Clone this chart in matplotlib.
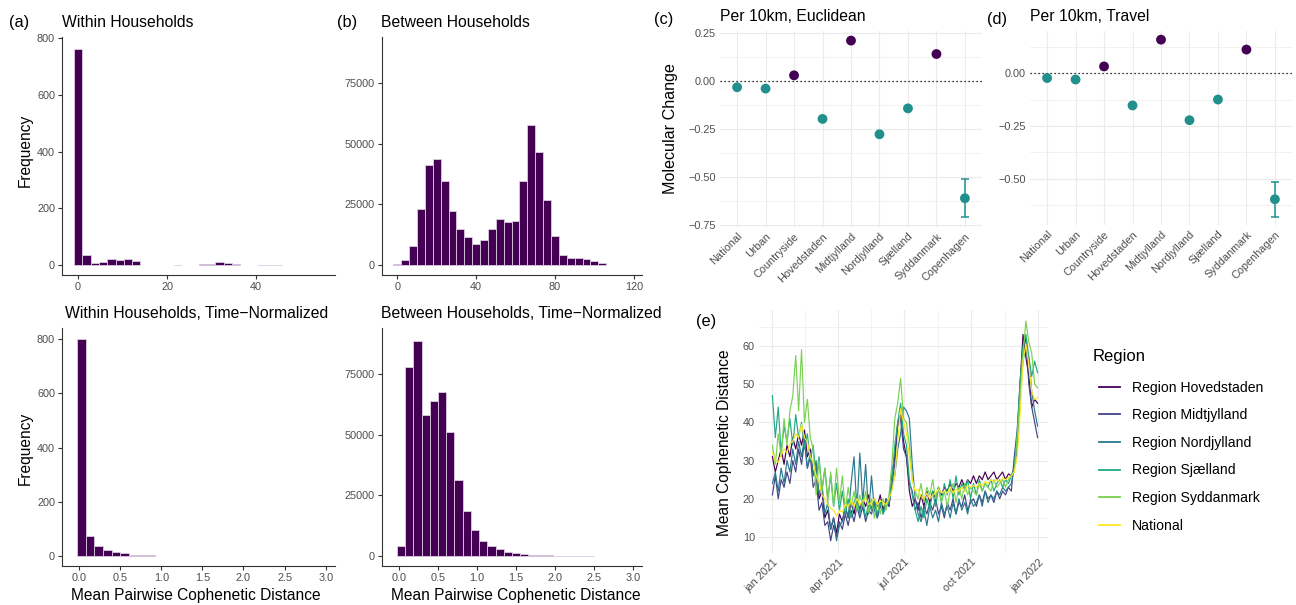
import numpy as np
import matplotlib
matplotlib.use('Agg')
import matplotlib.pyplot as plt
import matplotlib.dates as mdates
from matplotlib.ticker import FixedLocator

plt.rcParams['font.family'] = ['Liberation Sans', 'DejaVu Sans']

# ---------------- data ----------------
# (a) within households histogram
within_counts = [762, 35, 9, 10, 23, 19, 21, 14, 0, 0, 0, 0, 1, 0, 0, 2, 4, 12, 8, 2,
                 0, 0, 1, 1, 1, 0, 0, 0, 0, 0]
within_binwidth = 1.87
# (b) between households histogram
between_counts = [200, 2200, 7700, 22900, 41400, 43600, 34500, 22100, 15000, 11700,
                  8800, 10200, 15000, 18900, 17700, 18200, 34800, 57700, 46500, 26600,
                  12100, 4100, 2900, 3000, 2500, 1500, 600]
between_binwidth = 4.0
# time-normalized histograms
within_norm_counts = [800, 71.5, 37, 23, 15, 10, 4, 2, 2]
between_norm_counts = [3900, 78100, 88800, 58100, 63800, 67600, 51200, 31300, 18500, 10600,
                       6200, 3900, 2600, 1650, 1100, 700, 400, 200, 100, 50,
                       50, 40, 30, 30]
norm_binwidth = 0.105
norm_first_center = 0.03

# (c), (d) molecular change
categories = ["National", "Urban", "Countryside", "Hovedstaden", "Midtjylland",
              "Nordjylland", "Sjælland", "Syddanmark", "Copenhagen"]
eucl = [-0.031, -0.038, 0.031, -0.196, 0.212, -0.276, -0.141, 0.142, -0.609]
eucl_lo = [-0.031, -0.038, 0.031, -0.196, 0.212, -0.276, -0.141, 0.142, -0.708]
eucl_hi = [-0.031, -0.038, 0.031, -0.196, 0.212, -0.276, -0.141, 0.142, -0.509]
travel = [-0.022, -0.029, 0.033, -0.152, 0.160, -0.222, -0.124, 0.113, -0.597]
travel_lo = [-0.022, -0.029, 0.033, -0.152, 0.160, -0.222, -0.124, 0.113, -0.681]
travel_hi = [-0.022, -0.029, 0.033, -0.152, 0.160, -0.222, -0.124, 0.113, -0.516]

# (e) mean cophenetic distance, every 4 days from 2021-01-01
e_start = '2021-01-01'
e_step_days = 4
hovedstaden = [31, 27, 30, 33, 29, 34, 31, 36, 33, 37,
               34, 38, 31, 33, 26, 28, 20, 22, 15, 17,
               12, 15, 11, 16, 14, 18, 15, 19, 16, 20,
               17, 20, 18, 21, 17, 20, 18, 21, 17, 20,
               18, 26, 31, 40, 42, 35, 31, 22, 18, 20,
               17, 21, 18, 22, 19, 22, 20, 23, 21, 23,
               22, 24, 22, 24, 23, 25, 23, 25, 24, 26,
               24, 26, 25, 27, 25, 26, 27, 25, 26, 27,
               25, 26.5, 26, 28, 35, 50, 63, 57, 52, 44,
               46, 45]
midtjylland = [21, 26, 20, 25, 23, 27, 24, 30, 27, 33,
               29, 35, 28, 31, 23, 25, 17, 19, 13, 14,
               9, 13, 10, 14, 12, 16, 13, 17, 14, 18,
               15, 18, 14, 17, 16, 19, 15, 18, 17, 19,
               18, 24, 29, 39, 41, 33, 31, 24, 22, 17,
               19, 15, 18, 16, 19, 17, 20, 16, 18, 15,
               19, 17, 20, 16, 19, 18, 21, 17, 19, 20,
               18, 21, 19, 22, 20, 21, 19, 22, 20, 22,
               21, 23, 22, 31, 38, 50, 59, 62, 50, 44,
               40, 36]
nordjylland = [24, 27, 22, 28, 24, 30, 27, 33, 29, 35,
               31, 36, 28, 32, 26, 30, 21, 24, 16, 19,
               12, 15, 9, 13, 14, 18, 15, 24, 31, 17,
               32, 19, 29, 16, 26, 17, 15, 19, 16, 20,
               19, 23, 26, 33, 37, 44, 43, 41, 29, 20,
               16, 14, 17, 13, 18, 15, 17, 14, 19, 16,
               18, 15, 19, 16, 20, 17, 19, 16, 20, 18,
               19, 21, 18, 22, 19, 21, 20, 22, 21, 23,
               22, 23, 24, 28, 33, 47, 56, 60, 57, 48,
               43, 39]
sjaelland = [47, 36, 44, 32, 39, 35, 41, 34, 42, 36,
             40, 33, 37, 30, 34, 25, 31, 22, 28, 20,
             26, 18, 24, 17, 22, 16, 20, 15, 19, 21,
             16, 20, 15, 19, 17, 20, 16, 19, 16, 18,
             19, 25, 34, 40, 45, 37, 34, 25, 21, 17,
             14, 18, 15, 20, 17, 22, 18, 23, 19, 24,
             21, 25, 20, 26, 21, 24, 22, 25, 20, 24,
             21, 25, 22, 24, 23, 25, 22, 24, 25, 23,
             25, 24, 26, 28, 37, 51, 60, 63, 57, 52,
             56, 53]
syddanmark = [34, 29, 37, 31, 41, 34, 43, 47, 57.5, 43,
              59, 40, 46, 36, 33, 21, 30, 22, 28, 19,
              27, 18, 28, 19, 26, 17, 23, 18, 22, 17,
              21, 18, 22, 16.5, 20, 15, 19, 16, 20, 17,
              21, 29, 41, 45, 51.5, 41, 40, 34, 25, 22,
              20, 24, 19, 23, 21, 25, 20, 23, 19, 22,
              18, 22, 24, 19, 23, 20, 24, 21, 23, 22,
              21, 24, 22, 24, 23, 22, 25, 23, 24, 25,
              23, 25, 26, 27, 36, 47, 58, 66.5, 61, 58,
              50, 49]
national = [32, 30, 29.5, 31.5, 33, 32, 34.5, 35, 37, 36,
            39.5, 36, 35, 31, 29.5, 26, 24.5, 21, 20, 18.5,
            17.5, 17, 15.5, 17, 16.5, 18.5, 18, 19.5, 18, 20,
            18.5, 19.5, 20, 18.5, 19, 20, 18.5, 19.5, 19, 18.5,
            20, 22, 26, 35, 43.5, 40, 37, 31, 25, 22,
            22.5, 20.5, 20, 21.5, 20, 21, 21.5, 22.5, 21.5, 22,
            21.5, 23, 21.5, 22.5, 22, 23, 22, 23.5, 23, 23.5,
            23, 24, 23.5, 24.5, 24, 25, 24.5, 25, 24.5, 25.5,
            25, 25.5, 26, 27, 31, 42, 56, 60.5, 55, 48,
            46, 46.5]
region_names = ["Region Hovedstaden", "Region Midtjylland", "Region Nordjylland",
                "Region Sjælland", "Region Syddanmark", "National"]
region_colors = ['#440154', '#414487', '#2A788E', '#22A884', '#7AD151', '#FDE725']
e_tick_dates = ['2021-01-01', '2021-04-01', '2021-07-01', '2021-10-01', '2022-01-01']
e_tick_labels = ['jan 2021', 'apr 2021', 'jul 2021', 'oct 2021', 'jan 2022']

# ---------------- figure ----------------
W, H = 1296, 605
fig = plt.figure(figsize=(W / 100, H / 100), dpi=100)

def add_ax(l, r, t, b):
    return fig.add_axes([l / W, 1 - b / H, (r - l) / W, (b - t) / H])

def ftext(x, y, s, **kw):
    return fig.text(x / W, 1 - y / H, s, **kw)

FILL = '#440154'
EDGE = '#DCCCE2'
TICKC = '#4D4D4D'
TSIZE = 7.8
TITLE = 11.3
LABEL = 11.2

def classic(ax):
    for s in ['top', 'right']:
        ax.spines[s].set_visible(False)
    for s in ['left', 'bottom']:
        ax.spines[s].set_color('#333333')
        ax.spines[s].set_linewidth(0.8)
    ax.tick_params(axis='both', colors='#333333', labelcolor=TICKC, labelsize=TSIZE,
                   length=3, width=0.8, pad=2)

def hist(ax, centers, counts, width):
    centers = np.asarray(centers, dtype=float)
    counts = np.asarray(counts, dtype=float)
    keep = counts > 0
    ax.bar(centers[keep], counts[keep], width=width, color=FILL, edgecolor=EDGE, linewidth=0.6)

# (a) top
ax = add_ax(62, 335, 37, 275)
hist(ax, np.arange(len(within_counts)) * within_binwidth, within_counts, within_binwidth)
ax.set_xlim(-3.6, 57.7)
ax.set_ylim(-35, 803.5)
ax.set_xticks([0, 20, 40])
ax.set_yticks([0, 200, 400, 600, 800])
classic(ax)

# (b) top
ax = add_ax(382, 642, 37, 275)
hist(ax, np.arange(len(between_counts)) * between_binwidth, between_counts, between_binwidth)
ax.set_xlim(-7.8, 124.2)
ax.set_ylim(-4140, 93950)
ax.set_xticks([0, 40, 80, 120])
ax.set_yticks([0, 25000, 50000, 75000])
classic(ax)

# (a) bottom
ax = add_ax(62, 335, 328, 566)
hist(ax, norm_first_center + np.arange(len(within_norm_counts)) * norm_binwidth,
     within_norm_counts, norm_binwidth)
ax.set_xlim(-0.207, 3.113)
ax.set_ylim(-38, 842)
ax.set_xticks([0, 0.5, 1, 1.5, 2, 2.5, 3])
ax.set_xticklabels(['0.0', '0.5', '1.0', '1.5', '2.0', '2.5', '3.0'])
ax.set_yticks([0, 200, 400, 600, 800])
classic(ax)

# (b) bottom
ax = add_ax(382, 642, 328, 566)
hist(ax, norm_first_center + np.arange(len(between_norm_counts)) * norm_binwidth,
     between_norm_counts, norm_binwidth)
ax.set_xlim(-0.214, 3.11)
ax.set_ylim(-4260, 94140)
ax.set_xticks([0, 0.5, 1, 1.5, 2, 2.5, 3])
ax.set_xticklabels(['0.0', '0.5', '1.0', '1.5', '2.0', '2.5', '3.0'])
ax.set_yticks([0, 25000, 50000, 75000])
classic(ax)

# titles / labels for histograms
ftext(9, 27, '(a)', fontsize=TITLE + 0.5, va='baseline')
ftext(337, 27, '(b)', fontsize=TITLE + 0.5, va='baseline')
ftext(62, 27, 'Within Households', fontsize=TITLE, va='baseline')
ftext(381, 27, 'Between Households', fontsize=TITLE, va='baseline')
ftext(65, 318, 'Within Households, Time\u2212Normalized', fontsize=TITLE, va='baseline')
ftext(381, 318, 'Between Households, Time\u2212Normalized', fontsize=TITLE, va='baseline')
ftext(25, 150, 'Frequency', fontsize=LABEL, rotation=90, ha='center', va='center')
ftext(25, 448, 'Frequency', fontsize=LABEL, rotation=90, ha='center', va='center')
ftext(196, 600, 'Mean Pairwise Cophenetic Distance', fontsize=LABEL, ha='center', va='baseline')
ftext(516, 600, 'Mean Pairwise Cophenetic Distance', fontsize=LABEL, ha='center', va='baseline')

GRID = '#EBEBEB'

def minimal(ax):
    for s in ax.spines.values():
        s.set_visible(False)
    ax.tick_params(axis='both', which='both', length=0, labelcolor=TICKC, labelsize=TSIZE, pad=3)
    ax.grid(True, which='major', color=GRID, linewidth=0.8)
    ax.grid(True, which='minor', axis='y', color=GRID, linewidth=0.45)
    ax.set_axisbelow(True)

def dotplot(ax, vals, lo, hi, ylim, yticks, ylabels):
    x = np.arange(len(categories))
    cols = ['#440154' if v > 0 else '#21908C' for v in vals]
    ax.axhline(0, color='black', linestyle=(0, (1, 2.2)), linewidth=0.9, zorder=1)
    for xi, v, l, h, c in zip(x, vals, lo, hi, cols):
        if h - l > 1e-6:
            ax.errorbar([xi], [v], yerr=[[v - l], [h - v]], color=c, capsize=3.2,
                        elinewidth=1.1, capthick=1.1, zorder=2)
    ax.scatter(x, vals, s=50, c=cols, zorder=3, linewidths=0)
    ax.set_xlim(-0.6, len(categories) - 0.4)
    ax.set_ylim(*ylim)
    ax.set_xticks(x)
    ax.set_xticklabels(categories, rotation=45, ha='right', va='top', rotation_mode='anchor')
    ax.set_yticks(yticks)
    ax.set_yticklabels(ylabels)
    minor = [(a + b) / 2 for a, b in zip(yticks[:-1], yticks[1:])]
    if ylim[1] > yticks[-1] + (yticks[-1] - yticks[-2]) / 2:
        minor.append(yticks[-1] + (yticks[-1] - yticks[-2]) / 2)
    if ylim[0] < yticks[0] - (yticks[1] - yticks[0]) / 2:
        minor.append(yticks[0] - (yticks[1] - yticks[0]) / 2)
    ax.yaxis.set_minor_locator(FixedLocator(minor))
    minimal(ax)

# (c)
ax = add_ax(720, 982, 31, 227)
dotplot(ax, eucl, eucl_lo, eucl_hi, (-0.759, 0.262),
        [-0.75, -0.5, -0.25, 0.0, 0.25], ['\u22120.75', '\u22120.50', '\u22120.25', '0.00', '0.25'])
# (d)
ax = add_ax(1030, 1292, 31, 225)
dotplot(ax, travel, travel_lo, travel_hi, (-0.719, 0.201),
        [-0.5, -0.25, 0.0], ['\u22120.50', '\u22120.25', '0.00'])

ftext(654, 24, '(c)', fontsize=TITLE + 0.5, va='baseline')
ftext(987, 24, '(d)', fontsize=TITLE + 0.5, va='baseline')
ftext(720, 21, 'Per 10km, Euclidean', fontsize=TITLE, va='baseline')
ftext(1030, 21, 'Per 10km, Travel', fontsize=TITLE, va='baseline')
ftext(670, 129, 'Molecular Change', fontsize=LABEL + 0.4, rotation=90, ha='center', va='center')

# (e)
ax = add_ax(759, 1048, 310, 553)
start = np.datetime64(e_start)
series = [hovedstaden, midtjylland, nordjylland, sjaelland, syddanmark, national]
for vals, name, col in zip(series, region_names, region_colors):
    days = np.minimum(np.arange(len(vals)) * e_step_days, 364)
    dates = start + days.astype('timedelta64[D]')
    ax.plot(dates, vals, color=col, linewidth=0.85, label=name)
t0 = mdates.date2num(start)
ax.set_xlim(t0 - 18.4, t0 + 378.3)
ax.set_ylim(5.8, 69.4)
tick_nums = [mdates.date2num(np.datetime64(d)) for d in e_tick_dates]
ax.set_xticks(tick_nums)
ax.set_xticklabels(e_tick_labels, rotation=45, ha='right', va='top', rotation_mode='anchor')
ax.xaxis.set_minor_locator(FixedLocator([(a + b) / 2 for a, b in zip(tick_nums[:-1], tick_nums[1:])]))
ax.set_yticks([10, 20, 30, 40, 50, 60])
ax.yaxis.set_minor_locator(FixedLocator([15, 25, 35, 45, 55, 65]))
for s in ax.spines.values():
    s.set_visible(False)
ax.tick_params(axis='both', which='both', length=0, labelcolor=TICKC, labelsize=TSIZE, pad=3)
ax.grid(True, which='major', color=GRID, linewidth=0.8)
ax.grid(True, which='minor', color=GRID, linewidth=0.45)
ax.set_axisbelow(True)

ftext(696, 326, '(e)', fontsize=TITLE + 0.5, va='baseline')
ftext(724, 443, 'Mean Cophenetic Distance', fontsize=LABEL, rotation=90, ha='center', va='center')

# legend (title placed separately)
ftext(1093, 361, 'Region', fontsize=12, va='baseline')
handles, labels = ax.get_legend_handles_labels()
leg = fig.legend(handles, labels, loc='upper left',
                 bbox_to_anchor=(1086 / W, 1 - 368 / H), frameon=False,
                 fontsize=10.1, handlelength=1.55, handletextpad=0.85,
                 labelspacing=0.97)
for l in leg.get_lines():
    l.set_linewidth(1.3)

fig.savefig('out.png', dpi=100)
